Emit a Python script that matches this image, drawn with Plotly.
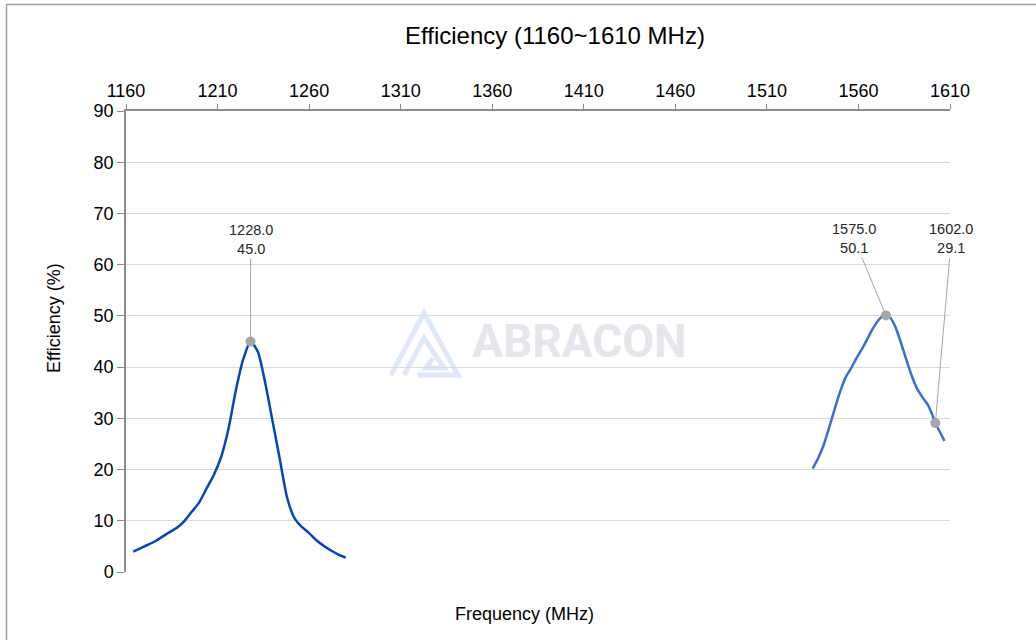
import plotly.graph_objects as go

# ---- data ----
freq_low = [1164, 1170, 1176, 1182, 1188, 1192, 1196, 1200, 1204, 1208, 1212, 1216, 1220,
            1224, 1228, 1232, 1236, 1240, 1244, 1248, 1252, 1256, 1260, 1264, 1268, 1272,
            1276, 1280]
eff_low = [4.0, 5.0, 6.0, 7.4, 8.7, 10.0, 11.8, 13.6, 16.3, 19.0, 22.5, 28.0, 35.5,
           41.5, 45.0, 43.0, 37.0, 29.5, 22.0, 14.5, 10.5, 8.8, 7.6, 6.2, 5.1, 4.2,
           3.4, 2.8]
freq_high = [1535, 1538, 1541, 1544, 1547, 1550, 1553, 1556, 1559, 1562, 1565, 1568, 1571,
             1573, 1575, 1577, 1580, 1583, 1586, 1589, 1592, 1595, 1598, 1600, 1602, 1605,
             1607]
eff_high = [20.2, 22.2, 24.8, 28.2, 31.8, 35.2, 38.0, 39.8, 41.8, 43.6, 45.6, 47.6, 49.2,
            49.9, 50.1, 49.8, 48.0, 45.0, 41.6, 38.4, 35.8, 34.1, 32.6, 31.0, 29.1, 27.0,
            25.6]
mark_freq = [1228.0, 1575.0, 1602.0]
mark_eff = [45.0, 50.1, 29.1]
mark_offsets = [(0, -102), (-32, -77), (16, -184)]  # label offsets (px)

x_ticks = list(range(1160, 1611, 50))
y_ticks = list(range(0, 91, 10))

# ---- layout geometry (pixels) ----
W, H = 1036, 640
L, R, T, B = 126, 86, 111, 68
PW, PH = W - L - R, H - T - B


def px(x):
    return (x - L) / PW


def py(y):
    return (H - B - y) / PH


FONT = "Liberation Sans, Arial, sans-serif"
fig = go.Figure()

fig.add_trace(go.Scatter(x=freq_low, y=eff_low, mode="lines",
                         line=dict(color="#0047BB", width=2.5, shape="spline", smoothing=0.6),
                         showlegend=False, hoverinfo="x+y"))
fig.add_trace(go.Scatter(x=freq_high, y=eff_high, mode="lines",
                         line=dict(color="#3A6FD0", width=2.5, shape="spline", smoothing=0.6),
                         showlegend=False, hoverinfo="x+y"))
fig.add_trace(go.Scatter(x=mark_freq, y=mark_eff, mode="markers",
                         marker=dict(color="#A6A6A6", size=10),
                         showlegend=False, hoverinfo="x+y"))

annotations = []
for f, e, (ax, ay) in zip(mark_freq, mark_eff, mark_offsets):
    annotations.append(dict(x=f, y=e, xref="x", yref="y",
                            text=f"{f:.1f}<br>{e:.1f}", showarrow=True,
                            ax=ax, ay=ay, arrowhead=0, arrowwidth=1,
                            arrowcolor="#A6A6A6", standoff=4,
                            font=dict(family=FONT, size=14.5, color="#262626")))

annotations += [
    dict(text="Efficiency (1160~1610 MHz)", xref="paper", yref="paper",
         x=px(555), y=py(35), showarrow=False, xanchor="center", yanchor="middle",
         font=dict(family=FONT, size=24, color="#000000")),
    dict(text="Frequency (MHz)", xref="paper", yref="paper",
         x=px(524), y=py(614), showarrow=False, xanchor="center", yanchor="middle",
         font=dict(family=FONT, size=18, color="#000000")),
    dict(text="Efficiency (%)", xref="paper", yref="paper",
         x=px(54), y=py(318), showarrow=False, textangle=-90,
         xanchor="center", yanchor="middle",
         font=dict(family=FONT, size=18, color="#000000")),
    dict(text="<b>ABRACON</b>", xref="paper", yref="paper",
         x=px(579), y=py(341), showarrow=False, xanchor="center", yanchor="middle",
         font=dict(family="Roboto, sans-serif", size=46, color="#E4E6EC")),
]


def path(points):
    s = "M " + " L ".join(f"{px(a):.4f},{py(b):.4f}" for a, b in points)
    return s


shapes = [
    # outer frame
    dict(type="rect", xref="paper", yref="paper", x0=px(6.5), x1=px(1100),
         y0=py(700), y1=py(4.5), line=dict(color="#A0A0A0", width=1.5), layer="below"),
    # watermark logo
    dict(type="path", xref="paper", yref="paper",
         path=path([(391, 375), (424, 313), (458, 375), (418, 375)]),
         line=dict(color="#DFE8F8", width=5), layer="below"),
    dict(type="path", xref="paper", yref="paper",
         path=path([(404, 375), (424, 338), (444, 368), (426, 368), (433, 358)]),
         line=dict(color="#DFE8F8", width=5), layer="below"),
]

fig.update_layout(
    width=W, height=H,
    margin=dict(l=L, r=R, t=T, b=B, pad=0),
    paper_bgcolor="white", plot_bgcolor="white",
    font=dict(family=FONT, size=18, color="#000000"),
    annotations=annotations, shapes=shapes,
    xaxis=dict(side="top", range=[1160, 1610], tickvals=x_ticks,
               showgrid=False, zeroline=False, showline=True, linecolor="#8C8C8C",
               linewidth=1.5, ticks="outside", ticklen=5, tickcolor="#8C8C8C",
               tickfont=dict(family=FONT, size=18, color="#000000")),
    yaxis=dict(range=[0, 90], tickvals=y_ticks, showgrid=True, gridcolor="#D9D9D9",
               gridwidth=1.2, zeroline=False, showline=True, linecolor="#8C8C8C",
               linewidth=1.5, ticks="outside", ticklen=7, tickcolor="#8C8C8C",
               tickfont=dict(family=FONT, size=18, color="#000000")),
    hovermode="closest",
)

fig.write_html("out.html", config={"displayModeBar": False},
               post_script="document.body.style.margin='0';document.body.style.overflow='hidden';")
